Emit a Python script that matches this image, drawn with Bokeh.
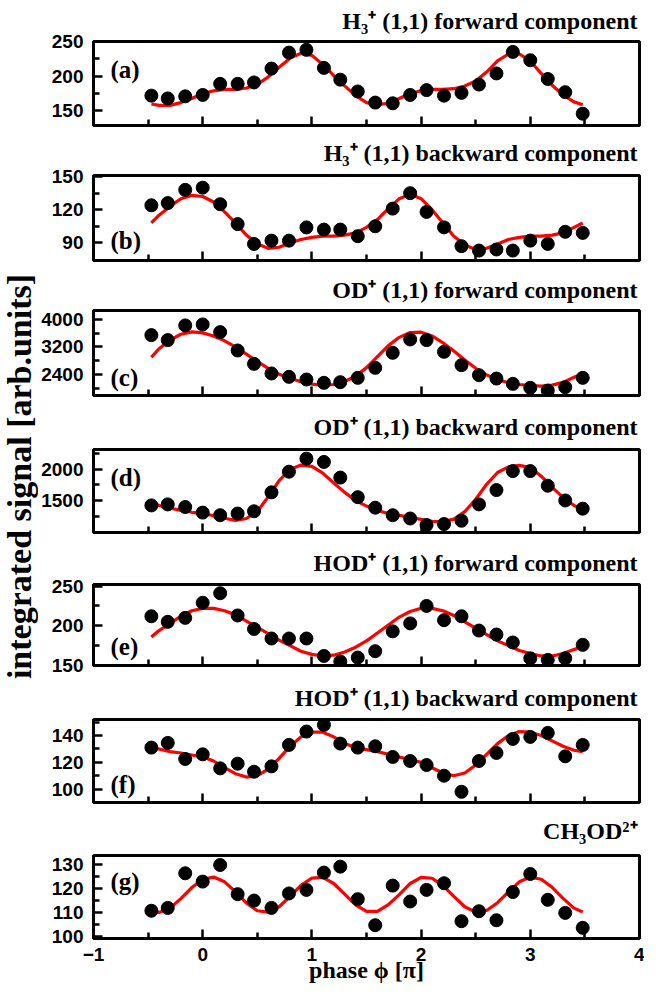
import math
from bokeh.plotting import figure
from bokeh.layouts import column, row
from bokeh.models import Label, FixedTicker, Range1d, LinearAxis
from bokeh.embed import file_html
from bokeh.resources import INLINE

# ---------------- data ----------------
phase = [-0.47, -0.32, -0.16, 0.00, 0.16, 0.32, 0.47, 0.63, 0.79, 0.95, 1.11, 1.26, 1.42,
         1.58, 1.74, 1.90, 2.05, 2.21, 2.37, 2.53, 2.69, 2.84, 3.00, 3.16, 3.32, 3.48]
fit_phase = [-0.47, -0.4, -0.3, -0.2, -0.1, 0.0, 0.1, 0.2, 0.3, 0.4, 0.5, 0.6, 0.7, 0.8, 0.9,
             1.0, 1.1, 1.2, 1.3, 1.4, 1.5, 1.6, 1.7, 1.8, 1.9, 2.0, 2.1, 2.2, 2.3, 2.4, 2.5,
             2.6, 2.7, 2.8, 2.9, 3.0, 3.1, 3.2, 3.3, 3.4, 3.48]

h3_fwd = [172, 168, 171, 173, 189, 189, 191, 211, 234, 238, 212, 195, 178, 162, 161, 173,
          180, 172, 176, 188, 204, 235, 223, 196, 177, 146]
h3_fwd_fit = [160, 158, 158, 162, 168, 175, 179, 181, 181, 183, 188, 199, 213, 226, 233, 230,
              217, 201, 186, 172, 162, 159, 161, 168, 175, 179, 181, 181, 182, 186, 193, 206,
              222, 232, 232, 222, 204, 187, 173, 163, 159]

h3_bwd = [124, 126, 138, 140, 125, 107, 89, 92, 92, 104, 102, 102, 96, 105, 121, 135, 118,
          104, 87, 83, 84, 83, 92, 89, 100, 99]
h3_bwd_fit = [108, 115, 123, 130, 133, 132, 127, 118, 108, 97, 89, 85, 86, 90, 93, 95, 96, 96,
              97, 99, 104, 111, 121, 130, 134, 130, 120, 108, 96, 88, 84, 85, 89, 93, 95, 96,
              96, 97, 99, 104, 108]

od_fwd = [3545, 3400, 3826, 3855, 3632, 3098, 2710, 2430, 2332, 2255, 2158, 2177, 2303, 2594,
          3030, 3418, 3400, 3060, 2672, 2380, 2283, 2128, 2012, 1934, 2031, 2303]
od_fwd_fit = [2900, 3150, 3400, 3570, 3640, 3610, 3520, 3380, 3200, 2990, 2780, 2580, 2410,
              2290, 2190, 2120, 2090, 2110, 2200, 2350, 2600, 2920, 3240, 3480, 3620, 3630,
              3520, 3320, 3080, 2820, 2580, 2390, 2250, 2160, 2110, 2080, 2060, 2090, 2170,
              2320, 2420]

od_bwd = [1421, 1437, 1395, 1305, 1263, 1290, 1326, 1631, 1963, 2173, 2120, 1868, 1553, 1384,
          1263, 1210, 1105, 1121, 1174, 1437, 1668, 1973, 1973, 1737, 1500, 1368]
od_bwd_fit = [1480, 1420, 1380, 1340, 1310, 1290, 1255, 1215, 1180, 1210, 1320, 1560, 1820,
              2000, 2070, 2050, 1940, 1780, 1630, 1500, 1410, 1340, 1290, 1260, 1230, 1195,
              1165, 1160, 1200, 1320, 1520, 1760, 1950, 2040, 2065, 2030, 1890, 1710, 1550,
              1420, 1360]

hod_fwd = [212, 205, 210, 229, 241, 213, 196, 184, 184, 184, 162, 155, 160, 168, 193, 203, 225,
           207, 212, 194, 189, 179, 159, 157, 159, 176]
hod_fwd_fit = [186, 194, 203, 212, 219, 222, 222, 219, 214, 206, 198, 190, 182, 175, 168, 164,
               162, 163, 167, 173, 181, 191, 201, 211, 218, 222, 222, 219, 213, 205, 197, 189,
               181, 175, 169, 165, 162, 162, 165, 170, 174]

hod_bwd = [131, 134.5, 122.5, 126, 115.5, 119, 113, 117, 133, 143, 148, 134, 131, 132, 124, 121,
           118, 110, 98, 121, 127, 137.5, 139, 142, 124.5, 133]
hod_bwd_fit = [131, 130, 128, 127, 125.5, 124, 121, 116, 111.5, 109, 110, 115, 123, 132, 139,
               142.5, 142.5, 139, 134, 131, 129.5, 128, 126, 124, 122, 120, 116, 112, 110, 112,
               118, 126, 134, 140, 143, 142.5, 140, 136, 132, 129, 128]

ch3od = [110.7, 111.9, 126.5, 123, 130, 117.7, 115, 111.9, 118, 119.5, 126.8, 129.3, 115.6,
         104.6, 121.3, 114.6, 119.5, 122.3, 106.3, 110.5, 106.7, 118.6, 126.2, 115.3, 109.8, 103.5]
ch3od_fit = [110.7, 110.0, 111.8, 115.8, 120.5, 124.0, 124.9, 122.9, 118.7, 114.0, 110.7, 110.1,
             112.4, 116.8, 121.4, 124.5, 124.8, 122.2, 117.7, 113.2, 110.4, 110.4, 113.3, 117.5,
             122.2, 124.8, 124.4, 121.3, 116.8, 112.4, 110.1, 110.8, 114.1, 118.7, 122.9, 124.9,
             124.0, 120.6, 115.9, 111.8, 110.2]

x_ticks = [-1, 0, 1, 2, 3, 4]
x_minor = [-0.5, 0.5, 1.5, 2.5, 3.5]

panel_labels = ["(a)", "(b)", "(c)", "(d)", "(e)", "(f)", "(g)"]
titles = [
    "H\u2083\u207a (1,1) forward component",
    "H\u2083\u207a (1,1) backward component",
    "OD\u207a (1,1) forward component",
    "OD\u207a (1,1) backward component",
    "HOD\u207a (1,1) forward component",
    "HOD\u207a (1,1) backward component",
    "CH\u2083OD\u00b2\u207a",
]
y_label = "integrated signal [arb.units]"
x_label = "phase \u03d5 [\u03c0]"

series = [h3_fwd, h3_bwd, od_fwd, od_bwd, hod_fwd, hod_bwd, ch3od]
fits = [h3_fwd_fit, h3_bwd_fit, od_fwd_fit, od_bwd_fit, hod_fwd_fit, hod_bwd_fit, ch3od_fit]
y_ranges = [(129, 250), (74, 151), (1790, 4260), (985, 2320), (150, 252), (90, 152), (99, 134)]
y_ticks = [[150, 200, 250], [90, 120, 150], [2400, 3200, 4000], [1500, 2000],
           [150, 200, 250], [100, 120, 140], [100, 110, 120, 130]]
y_minor = [[175, 225], [105, 135], [2000, 2800, 3600], [1250, 1750, 2250],
           [175, 225], [110, 130, 150], [105, 115, 125]]

# ---------------- layout / style ----------------
SERIF = "Liberation Serif"
SANS = "Liberation Sans"
TOTAL_H = 989
YL_W = 38
LEFT, FRAME_W, RIGHT = 54, 547, 5
FIG_W = LEFT + FRAME_W + RIGHT
frame_top = [41, 175, 310, 449, 584, 719, 855]   # page px
frame_h = [84, 85, 85, 83, 81, 83, 83]
bot_b = [5, 5, 5, 5, 11, 5, 51]
title_valign = ["top", "top", "bottom", "bottom", "bottom", "top", "top"]
plabel_y = [56, 20, 18, 55, 19, 18, 57]         # panel label baseline above frame bottom


def style_axis(ax):
    ax.axis_line_width = 3
    ax.major_tick_in = 9
    ax.major_tick_out = 0
    ax.minor_tick_in = 6
    ax.minor_tick_out = 0
    ax.major_tick_line_width = 2.5
    ax.minor_tick_line_width = 2.5
    ax.major_label_text_font = SANS
    ax.major_label_text_font_style = "bold"
    ax.major_label_text_font_size = "19px"
    ax.major_label_text_color = "black"


children = []
prev_bottom = 0
for i in range(7):
    top_b = frame_top[i] - prev_bottom
    h = top_b + frame_h[i] + bot_b[i]
    p = figure(width=FIG_W, height=h, output_backend="svg",
               toolbar_location=None, x_range=Range1d(-1, 4),
               y_range=Range1d(*y_ranges[i]), min_border_left=LEFT,
               min_border_right=RIGHT, min_border_top=top_b, min_border_bottom=bot_b[i])
    p.title.text = titles[i]
    p.title.align = "right"
    p.title.vertical_align = title_valign[i]
    p.title.offset = 2
    p.title.standoff = max(top_b - 29, 0)
    p.title.text_font = SERIF
    p.title.text_font_style = "bold"
    p.title.text_font_size = "24px"
    p.title.text_color = "black"
    p.grid.visible = False
    p.background_fill_color = "white"
    p.border_fill_color = "white"
    p.outline_line_color = "black"
    p.outline_line_width = 3
    style_axis(p.xaxis[0])
    style_axis(p.yaxis[0])
    p.yaxis.ticker = FixedTicker(ticks=y_ticks[i], minor_ticks=y_minor[i])
    p.yaxis.major_label_standoff = 10
    if i < 6:
        # unlabeled bottom axis: integer ticks (long) + half ticks (short), no tick texts
        p.xaxis.ticker = FixedTicker(ticks=[], minor_ticks=x_ticks)
        p.xaxis.minor_tick_in = 9
        ax2 = LinearAxis(ticker=FixedTicker(ticks=[], minor_ticks=x_minor))
        style_axis(ax2)
        ax2.axis_line_color = None
        p.add_layout(ax2, "below")
    else:
        p.xaxis.ticker = FixedTicker(ticks=x_ticks, minor_ticks=x_minor)
        p.xaxis.major_label_standoff = 9
        p.xaxis.axis_label = x_label
        p.xaxis.axis_label_text_font = SERIF
        p.xaxis.axis_label_text_font_style = "bold"
        p.xaxis.axis_label_text_font_size = "24px"
        p.xaxis.axis_label_text_color = "black"
        p.xaxis.axis_label_standoff = -7
    p.line(fit_phase, fits[i], line_color="#ff0000", line_width=3.2)
    p.scatter(phase, series[i], size=13, fill_color="black", line_color="black")
    p.add_layout(Label(x=17, y=plabel_y[i], x_units="screen", y_units="screen",
                       text=panel_labels[i], text_font=SERIF, text_font_style="bold",
                       text_font_size="25px", text_baseline="alphabetic", text_color="black"))
    children.append(p)
    prev_bottom = frame_top[i] + frame_h[i] + bot_b[i]

yl = figure(width=YL_W, height=TOTAL_H, output_backend="svg", toolbar_location=None,
            x_range=Range1d(0, YL_W), y_range=Range1d(0, TOTAL_H), x_axis_location=None,
            y_axis_location=None, min_border_left=0, min_border_right=0, min_border_top=0,
            min_border_bottom=0, outline_line_color=None)
yl.grid.visible = False
yl.border_fill_color = "white"
yl.add_layout(Label(x=19, y=TOTAL_H - 476, text=y_label, angle=math.pi / 2,
                    text_font=SERIF, text_font_style="bold", text_font_size="34px",
                    text_align="center", text_baseline="middle", text_color="black"))

layout = row(yl, column(*children, spacing=0), spacing=0)
open("out.html", "w").write(file_html(layout, INLINE))
